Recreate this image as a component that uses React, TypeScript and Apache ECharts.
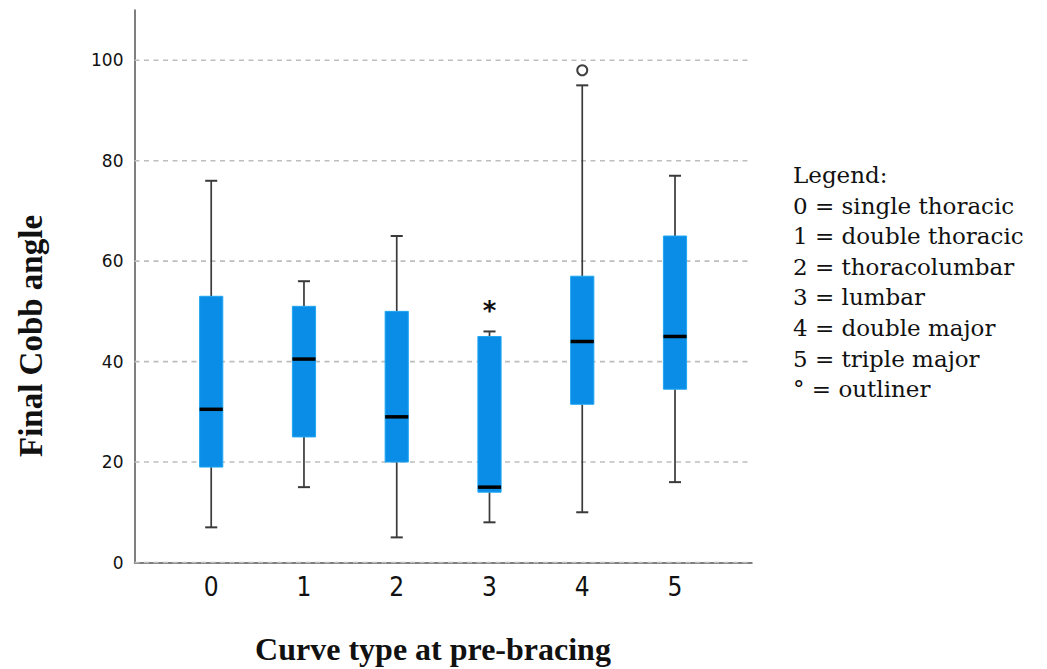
import React, { useEffect, useRef } from 'react';
import * as echarts from 'echarts';

// ---- data ----
const categories = ['0', '1', '2', '3', '4', '5'];
const whiskerLow = [7, 15, 5, 8, 10, 16];
const q1 = [19, 25, 20, 14, 31.5, 34.5];
const medians = [30.5, 40.5, 29, 15, 44, 45];
const q3 = [53, 51, 50, 45, 57, 65];
const whiskerHigh = [76, 56, 65, 46, 95, 77];
const outliers = [[4, 98]]; // circle "outliner"
const extremes = [[3, 51]]; // asterisk
const yTicks = [0, 20, 40, 60, 80, 100];
const legendLines = [
  'Legend:',
  '0 = single thoracic',
  '1 = double thoracic',
  '2 = thoracolumbar',
  '3 = lumbar',
  '4 = double major',
  '5 = triple major',
  '° = outliner',
];

const X_MIN = -0.827;
const X_MAX = 5.83;
const Y_MIN = 0;
const Y_MAX = 110;

export default function App() {
  const ref = useRef<HTMLDivElement>(null);
  useEffect(() => {
    if (!ref.current) return;
    const chart = echarts.init(ref.current, undefined, { renderer: 'svg' });
    const boxData = categories.map((_, i) => [i, whiskerLow[i], q1[i], medians[i], q3[i], whiskerHigh[i]]);
    const option: any = {
      animation: false,
      backgroundColor: '#ffffff',
      grid: { left: 134.5, right: 295, top: 10, bottom: 106.5, outerBoundsMode: 'none' },
      xAxis: {
        type: 'value',
        min: X_MIN,
        max: X_MAX,
        axisLine: { show: true, onZero: false, lineStyle: { color: '#555', width: 1.5 } },
        axisTick: { show: false },
        splitLine: { show: false },
        axisLabel: {
          customValues: categories.map((_, i) => i),
          formatter: (v: number) => categories[Math.round(v)] ?? '',
          fontFamily: 'DejaVu Sans Condensed, DejaVu Sans',
          fontSize: 26,
          color: '#111',
          margin: 11,
        },
      },
      yAxis: {
        type: 'value',
        min: Y_MIN,
        max: Y_MAX,
        axisLine: { show: true, onZero: false, lineStyle: { color: '#555', width: 1.5 } },
        axisTick: { show: false },
        splitLine: { show: false },
        axisLabel: {
          customValues: yTicks,
          fontFamily: 'DejaVu Sans',
          fontSize: 17,
          color: '#111',
          margin: 11,
        },
      },
      series: [
        {
          type: 'custom',
          name: 'grid',
          silent: true,
          z: 1,
          data: yTicks.map((v) => [v]),
          encode: { y: 0 },
          renderItem: (params: any, api: any) => {
            const v = api.value(0);
            const a = api.coord([X_MIN, v]);
            const b = api.coord([X_MAX, v]);
            return {
              type: 'line',
              shape: { x1: a[0], y1: a[1], x2: b[0], y2: b[1] },
              style: { stroke: '#bdbdbd', lineWidth: 1.6, lineDash: [5, 4.5] },
            };
          },
        },
        {
          type: 'custom',
          name: 'boxes',
          z: 3,
          data: boxData,
          encode: { x: 0, y: [1, 2, 3, 4, 5] },
          renderItem: (params: any, api: any) => {
            const x = api.value(0);
            const pLow = api.coord([x, api.value(1)]);
            const pQ1 = api.coord([x, api.value(2)]);
            const pMed = api.coord([x, api.value(3)]);
            const pQ3 = api.coord([x, api.value(4)]);
            const pHigh = api.coord([x, api.value(5)]);
            const cx = pMed[0];
            const w = api.size([0.25, 0])[0];
            const cap = api.size([0.13, 0])[0];
            const ws = { stroke: '#3a3a3a', lineWidth: 1.7 };
            return {
              type: 'group',
              children: [
                { type: 'line', shape: { x1: cx, y1: pHigh[1], x2: cx, y2: pQ3[1] }, style: ws },
                { type: 'line', shape: { x1: cx, y1: pQ1[1], x2: cx, y2: pLow[1] }, style: ws },
                { type: 'line', shape: { x1: cx - cap / 2, y1: pHigh[1], x2: cx + cap / 2, y2: pHigh[1] }, style: { stroke: '#3a3a3a', lineWidth: 2 } },
                { type: 'line', shape: { x1: cx - cap / 2, y1: pLow[1], x2: cx + cap / 2, y2: pLow[1] }, style: { stroke: '#3a3a3a', lineWidth: 2 } },
                {
                  type: 'rect',
                  shape: { x: cx - w / 2, y: pQ3[1], width: w, height: pQ1[1] - pQ3[1] },
                  style: { fill: '#0a8de6', stroke: '#20a6f2', lineWidth: 1 },
                },
                { type: 'line', shape: { x1: cx - w / 2, y1: pMed[1], x2: cx + w / 2, y2: pMed[1] }, style: { stroke: '#000', lineWidth: 3.5 } },
              ],
            };
          },
        },
        {
          type: 'scatter',
          name: 'outliers',
          z: 4,
          data: outliers,
          symbol: 'emptyCircle',
          symbolSize: 10,
          itemStyle: { color: '#111', borderColor: '#111', borderWidth: 1.6 },
        },
        {
          type: 'custom',
          name: 'extremes',
          z: 4,
          data: extremes,
          encode: { x: 0, y: 1 },
          renderItem: (params: any, api: any) => {
            const p = api.coord([api.value(0), api.value(1)]);
            return {
              type: 'text',
              x: p[0],
              y: p[1] + 5,
              style: {
                text: '*',
                fontFamily: 'DejaVu Sans',
                fontWeight: 'bold',
                fontSize: 26,
                fill: '#111',
                align: 'center',
                verticalAlign: 'middle',
              },
            };
          },
        },
      ],
      graphic: [
        {
          type: 'text',
          x: 433,
          y: 649,
          style: {
            text: 'Curve type at pre-bracing',
            fontFamily: 'Liberation Serif',
            fontWeight: 'bold',
            fontSize: 32,
            fill: '#111',
            align: 'center',
            verticalAlign: 'middle',
          },
        },
        {
          type: 'text',
          x: 31,
          y: 336,
          rotation: Math.PI / 2,
          style: {
            text: 'Final Cobb angle',
            fontFamily: 'Liberation Serif',
            fontWeight: 'bold',
            fontSize: 33,
            fill: '#111',
            align: 'center',
            verticalAlign: 'middle',
          },
        },
        ...legendLines.map((t, i) => ({
          type: 'text',
          x: 793,
          y: 175 + i * 30.6,
          style: {
            text: t,
            fontFamily: 'DejaVu Serif',
            fontSize: 23,
            fill: '#111',
            align: 'left',
            verticalAlign: 'middle',
          },
        })),
      ],
    };
    chart.setOption(option);
    return () => chart.dispose();
  }, []);
  return (
    <div
      ref={ref}
      style={{ position: 'fixed', left: 0, top: 0, width: 1047, height: 669, background: '#fff' }}
    />
  );
}
